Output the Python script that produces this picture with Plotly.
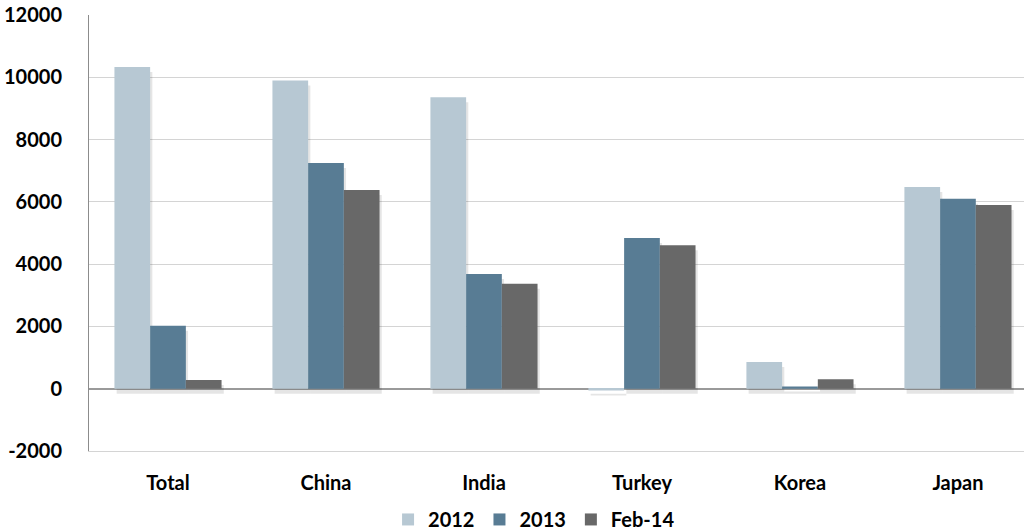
import plotly.graph_objects as go

categories = ["Total", "China", "India", "Turkey", "Korea", "Japan"]
series_names = ["2012", "2013", "Feb-14"]
values_2012 = [10330, 9900, 9360, -60, 860, 6480]
values_2013 = [2020, 7250, 3680, 4840, 70, 6100]
values_feb14 = [280, 6380, 3370, 4610, 300, 5900]
colors = ["#b7c8d3", "#587c94", "#686868"]
y_ticks = [-2000, 0, 2000, 4000, 6000, 8000, 10000, 12000]

all_values = [values_2012, values_2013, values_feb14]
bar_w = 0.226
offsets = [-1.5 * bar_w, -0.5 * bar_w, 0.5 * bar_w]
shadow_dx = 0.014
shadow_dy = 160

fig = go.Figure()
# soft drop shadows (drawn first, beneath the bars)
for vals, off in zip(all_values, offsets):
    fig.add_trace(go.Bar(x=categories, y=vals, base=-shadow_dy, width=bar_w,
                         offset=off + shadow_dx, showlegend=False, hoverinfo="skip",
                         marker=dict(color="rgba(0,0,0,0.10)", line=dict(width=0))))
for name, vals, col, off in zip(series_names, all_values, colors, offsets):
    fig.add_trace(go.Bar(x=categories, y=vals, name=name, width=bar_w, offset=off,
                         marker=dict(color=col, line=dict(width=0))))

font_family = "Lato, 'Open Sans', sans-serif"
fig.update_layout(
    width=1024, height=531,
    margin=dict(l=89, r=0, t=15, b=80, autoexpand=False),
    barmode="overlay",
    plot_bgcolor="white", paper_bgcolor="white",
    font=dict(family=font_family, size=20, color="black"),
    showlegend=True,
    legend=dict(orientation="h", x=0.476, xanchor="center", y=-0.157, yanchor="middle",
                font=dict(size=20, family=font_family, weight="bold"),
                itemwidth=30, traceorder="normal", tracegroupgap=0),
    xaxis=dict(showline=True, linecolor="#d4d4d4", linewidth=1, ticks="",
               tickfont=dict(size=20, weight="bold"), ticklabelstandoff=14,
               showgrid=False, range=[-0.5, 5.418]),
    yaxis=dict(range=[-2000, 12000], tickvals=y_ticks, ticktext=[str(v) for v in y_ticks],
               showgrid=True, gridcolor="#d4d4d4", gridwidth=1,
               zeroline=True, zerolinecolor="#9a9a9a", zerolinewidth=2,
               showline=True, linecolor="#8c8c8c", linewidth=1,
               ticks="", ticklabelstandoff=22,
               tickfont=dict(size=20, weight="bold")),
)
fig.write_html("out.html")
